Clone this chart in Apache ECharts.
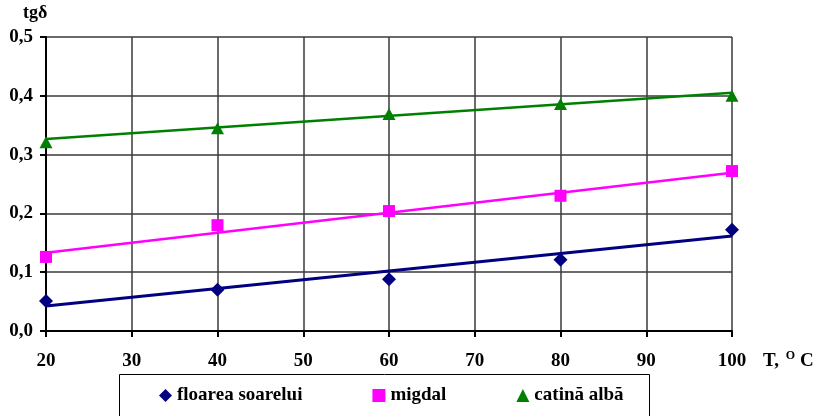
<!DOCTYPE html>
<html>
<head>
<meta charset="utf-8">
<script src="https://cdn.jsdelivr.net/npm/echarts@6/dist/echarts.min.js"></script>
<style>
html,body{margin:0;padding:0;background:#fff;}
#chart{width:818px;height:416px;}
</style>
</head>
<body>
<div id="chart"></div>
<script>
// Data
var temperatures = [20, 40, 60, 80, 100];
var floareaSoarelui = [0.051, 0.070, 0.088, 0.121, 0.172];
var migdal = [0.126, 0.180, 0.204, 0.230, 0.272];
var catinaAlba = [0.321, 0.345, 0.369, 0.386, 0.400];
// Linear trend lines: values at the first and last temperature
var trendX = [20, 100];
var trendFloarea = [0.0425, 0.1615];
var trendMigdal = [0.133, 0.269];
var trendCatina = [0.3265, 0.405];
var seriesNames = ['floarea soarelui', 'migdal', 'catină albă'];
var yTicks = [0, 0.1, 0.2, 0.3, 0.4, 0.5];

function pairs(xs, ys) { return xs.map(function (x, i) { return [x, ys[i]]; }); }

var FONT = '"Liberation Serif", "Times New Roman", serif';
var chart = echarts.init(document.getElementById('chart'), null, {renderer: 'canvas'});

var option = {
  backgroundColor: '#fff',
  animation: false,
  grid: {left: 46, right: 86, top: 37, bottom: 85, containLabel: false},
  xAxis: {
    type: 'value', min: 20, max: 100, interval: 10,
    axisLine: {show: true, onZero: false, lineStyle: {color: '#000', width: 2}},
    axisTick: {show: true, length: 6, inside: false, lineStyle: {color: '#000', width: 2}},
    axisLabel: {margin: 21, color: '#000', fontFamily: FONT, fontWeight: 'bold', fontSize: 19},
    splitLine: {show: true, lineStyle: {color: '#3a3a3a', width: 1.5}}
  },
  yAxis: {
    type: 'value', min: yTicks[0], max: yTicks[yTicks.length - 1], interval: 0.1,
    axisLine: {show: true, lineStyle: {color: '#000', width: 2}},
    axisTick: {show: true, length: 6, lineStyle: {color: '#000', width: 2}},
    axisLabel: {margin: 13, color: '#000', fontFamily: FONT, fontWeight: 'bold', fontSize: 19,
      formatter: function (v) { return v.toFixed(1).replace('.', ','); }},
    splitLine: {show: true, lineStyle: {color: '#3a3a3a', width: 1.5}}
  },
  legend: {
    left: 159, top: 386, padding: 0, itemGap: 70, itemWidth: 13, itemHeight: 13,
    textStyle: {color: '#000', fontFamily: FONT, fontWeight: 'bold', fontSize: 19},
    data: [
      {name: seriesNames[0], icon: 'diamond'},
      {name: seriesNames[1], icon: 'rect'},
      {name: seriesNames[2], icon: 'triangle'}
    ]
  },
  graphic: [
    {type: 'rect', silent: true, z: -1, shape: {x: 119.5, y: 374.5, width: 530, height: 60},
      style: {fill: '#fff', stroke: '#000', lineWidth: 1}},
    {type: 'text', left: 23, top: 4, style: {text: 'tgδ', fill: '#000', font: 'bold 18px ' + FONT}},
    {type: 'text', left: 763, top: 350, style: {
      text: '{a|T, }{s|O}{a|C}',
      rich: {
        a: {fill: '#000', fontFamily: FONT, fontWeight: 'bold', fontSize: 19, verticalAlign: 'bottom'},
        s: {fill: '#000', fontFamily: FONT, fontWeight: 'bold', fontSize: 12, verticalAlign: 'top', padding: [0, 5, 9, 2]}
      }}}
  ],
  series: [
    {name: 'trend1', type: 'line', data: pairs(trendX, trendFloarea), symbol: 'none', silent: true,
      lineStyle: {color: '#000080', width: 3}, z: 2},
    {name: 'trend2', type: 'line', data: pairs(trendX, trendMigdal), symbol: 'none', silent: true,
      lineStyle: {color: '#ff00ff', width: 2.5}, z: 2},
    {name: 'trend3', type: 'line', data: pairs(trendX, trendCatina), symbol: 'none', silent: true,
      lineStyle: {color: '#008000', width: 2.5}, z: 2},
    {name: seriesNames[0], type: 'scatter', symbol: 'diamond', symbolSize: 14,
      itemStyle: {color: '#000080', opacity: 1}, data: pairs(temperatures, floareaSoarelui), z: 3},
    {name: seriesNames[1], type: 'scatter', symbol: 'rect', symbolSize: 12,
      itemStyle: {color: '#ff00ff', opacity: 1}, data: pairs(temperatures, migdal), z: 3},
    {name: seriesNames[2], type: 'scatter', symbol: 'triangle', symbolSize: [13, 12],
      itemStyle: {color: '#008000', opacity: 1}, data: pairs(temperatures, catinaAlba), z: 3}
  ]
};
chart.setOption(option);
</script>
</body>
</html>
